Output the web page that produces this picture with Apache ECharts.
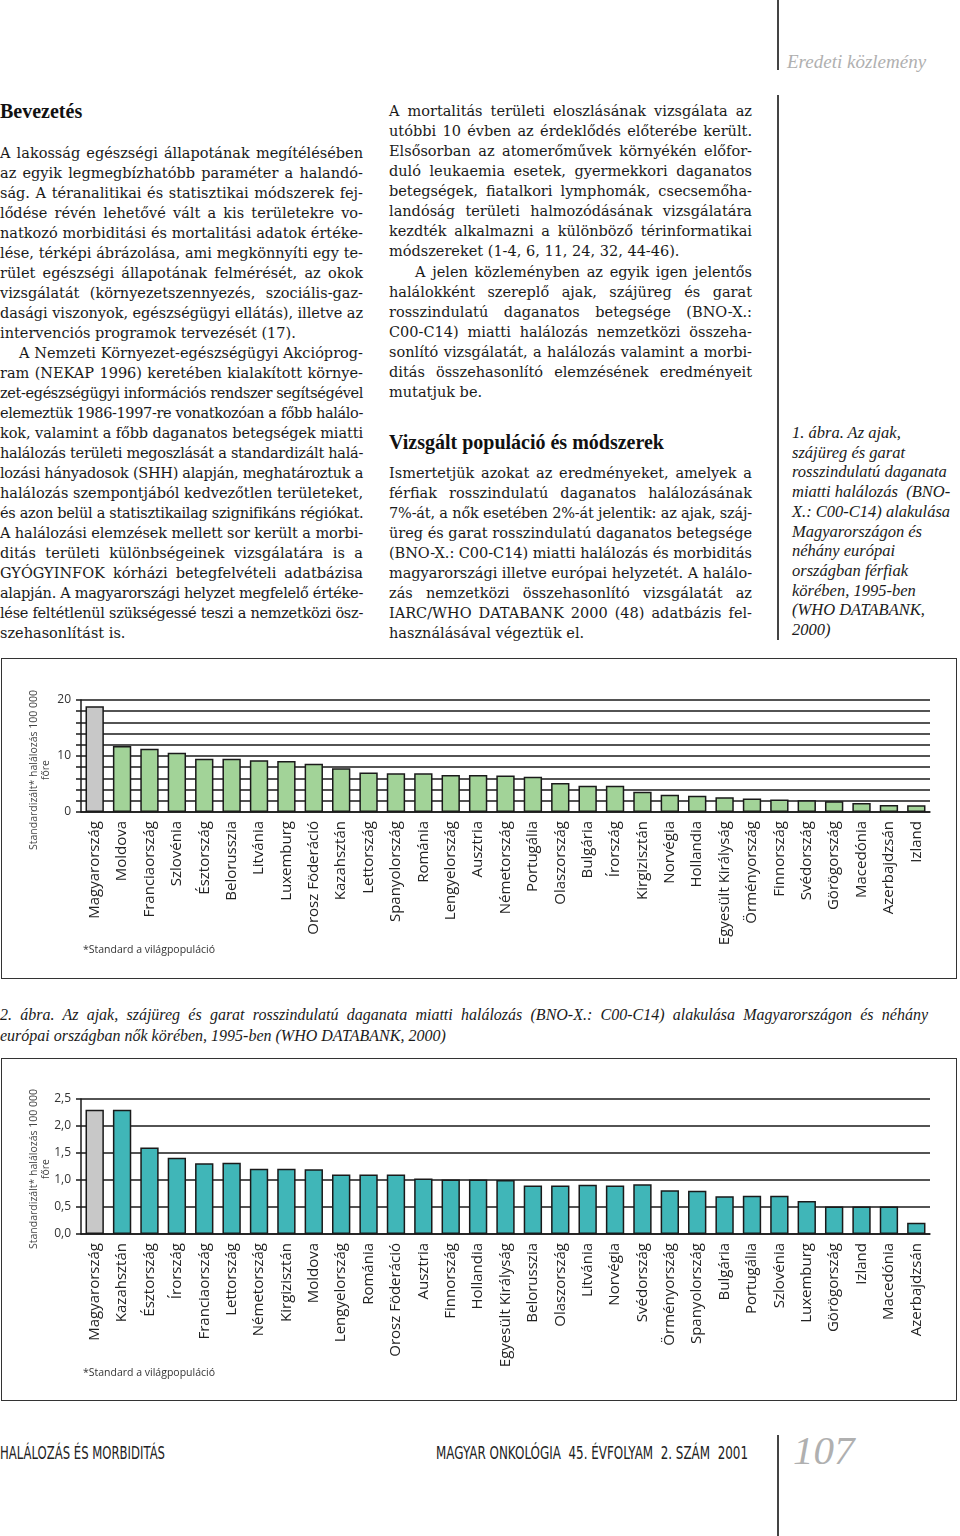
<!DOCTYPE html>
<html><head><meta charset="utf-8">
<script src="https://cdn.jsdelivr.net/npm/echarts@6/dist/echarts.min.js"></script>
<style>
html,body{margin:0;padding:0;background:#fff;}
#page{position:relative;width:960px;height:1536px;overflow:hidden;background:#fff;color:#1a1a1a;}
.ln{position:absolute;height:20px;line-height:20px;white-space:pre;font-family:"DejaVu Serif",serif;font-size:14.5px;color:#1a1a1a;}
.it{font-family:"Liberation Serif",serif;font-style:italic;}
.hd{position:absolute;font-family:"Liberation Serif",serif;font-weight:bold;font-size:20px;line-height:24px;color:#111;white-space:nowrap;}
.vline{position:absolute;width:1.5px;background:#444;}
.box{position:absolute;border:1.5px solid #333;box-sizing:border-box;pointer-events:none;}
.foot{position:absolute;white-space:pre;font-family:"DejaVu Sans",sans-serif;font-size:18px;line-height:20px;color:#222;transform-origin:0 50%;display:inline-block;}
</style></head>
<body><div id="page">
<div class="vline" style="left:777px;top:0;height:70px"></div>
<div class="vline" style="left:777px;top:95px;height:545px"></div>
<div class="vline" style="left:777px;top:1435px;height:101px"></div>
<div style="position:absolute;left:787px;top:50px;font-family:'Liberation Serif',serif;font-style:italic;font-size:19px;line-height:24px;color:#b0b0b0;white-space:nowrap">Eredeti közlemény</div>
<div class="hd" style="left:0;top:99px">Bevezetés</div>
<div class="hd" style="left:389px;top:430px">Vizsgált populáció és módszerek</div>
<div class="box" style="left:1px;top:658px;width:956px;height:321px"></div>
<div id="c1" style="position:absolute;left:0;top:658px;width:960px;height:320px"></div>
<div class="box" style="left:1px;top:1058px;width:956px;height:343px"></div>
<div id="c2" style="position:absolute;left:0;top:1058px;width:960px;height:342px"></div>
<div style="position:absolute;left:793px;top:1426px;font-family:'Liberation Serif',serif;font-style:italic;font-size:41px;line-height:48px;color:#b0b0b0">107</div>
</div>
<script>
// ---------- chart data ----------
const highlightName = 'Magyarország';
const cats1 = ['Magyarország','Moldova','Franciaország','Szlovénia','Észtország','Belorusszia','Litvánia','Luxemburg','Orosz Föderáció','Kazahsztán','Lettország','Spanyolország','Románia','Lengyelország','Ausztria','Németország','Portugália','Olaszország','Bulgária','Írország','Kirgizisztán','Norvégia','Hollandia','Egyesült Királyság','Örményország','Finnország','Svédország','Görögország','Macedónia','Azerbajdzsán','Izland'];
const vals1 = [18.9,11.8,11.3,10.6,9.5,9.5,9.25,9.1,8.6,7.8,7.05,6.9,6.9,6.6,6.6,6.5,6.3,5.2,4.7,4.7,3.6,3.1,2.9,2.65,2.4,2.25,2.1,1.9,1.6,1.25,1.2];
const yTicks1 = {min:0,max:20,step:2,labelEvery:10};
const cats2 = ['Magyarország','Kazahsztán','Észtország','Írország','Franciaország','Lettország','Németország','Kirgizisztán','Moldova','Lengyelország','Románia','Orosz Föderáció','Ausztria','Finnország','Hollandia','Egyesült Királyság','Belorusszia','Olaszország','Litvánia','Norvégia','Svédország','Örményország','Spanyolország','Bulgária','Portugália','Szlovénia','Luxemburg','Görögország','Izland','Macedónia','Azerbajdzsán'];
const vals2 = [2.3,2.3,1.6,1.41,1.31,1.32,1.21,1.21,1.2,1.1,1.1,1.1,1.03,1.01,1.01,1.0,0.9,0.9,0.91,0.9,0.92,0.81,0.8,0.7,0.71,0.71,0.61,0.51,0.51,0.51,0.21];
const yTicks2 = {min:0,max:2.5,step:0.5};
const yName = 'Standardizált* halálozás 100 000\nfőre';
const footNote = '*Standard a világpopuláció';

// ---------- text ----------
const col1 = [
 {indent:0, lines:['A lakosság egészségi állapotának megítélésében','az egyik legmegbízhatóbb paraméter a halandó-','ság. A téranalitikai és statisztikai módszerek fej-','lődése révén lehetővé vált a kis területekre vo-','natkozó morbiditási és mortalitási adatok értéke-','lése, térképi ábrázolása, ami megkönnyíti egy te-','rület egészségi állapotának felmérését, az okok','vizsgálatát (környezetszennyezés, szociális-gaz-','dasági viszonyok, egészségügyi ellátás), illetve az','intervenciós programok tervezését (17).']},
 {indent:19, lines:['A Nemzeti Környezet-egészségügyi Akcióprog-','ram (NEKAP 1996) keretében kialakított környe-','zet-egészségügyi információs rendszer segítségével','elemeztük 1986-1997-re vonatkozóan a főbb halálo-','kok, valamint a főbb daganatos betegségek miatti','halálozás területi megoszlását a standardizált halá-','lozási hányadosok (SHH) alapján, meghatároztuk a','halálozás szempontjából kedvezőtlen területeket,','és azon belül a statisztikailag szignifikáns régiókat.','A halálozási elemzések mellett sor került a morbi-','ditás területi különbségeinek vizsgálatára is a','GYÓGYINFOK kórházi betegfelvételi adatbázisa','alapján. A magyarországi helyzet megfelelő értéke-','lése feltétlenül szükségessé teszi a nemzetközi ösz-','szehasonlítást is.']}
];
const col2a = [
 {indent:0, lines:['A mortalitás területi eloszlásának vizsgálata az','utóbbi 10 évben az érdeklődés előterébe került.','Elsősorban az atomerőművek környékén előfor-','duló leukaemia esetek, gyermekkori daganatos','betegségek, fiatalkori lymphomák, csecsemőha-','landóság területi halmozódásának vizsgálatára','kezdték alkalmazni a különböző térinformatikai','módszereket (1-4, 6, 11, 24, 32, 44-46).']},
 {indent:26, lines:['A jelen közleményben az egyik igen jelentős','halálokként szereplő ajak, szájüreg és garat','rosszindulatú daganatos betegsége (BNO-X.:','C00-C14) miatti halálozás nemzetközi összeha-','sonlító vizsgálatát, a halálozás valamint a morbi-','ditás összehasonlító elemzésének eredményeit','mutatjuk be.']}
];
const col2b = [
 {indent:0, lines:['Ismertetjük azokat az eredményeket, amelyek a','férfiak rosszindulatú daganatos halálozásának','7%-át, a nők esetében 2%-át jelentik: az ajak, száj-','üreg és garat rosszindulatú daganatos betegsége','(BNO-X.: C00-C14) miatti halálozás és morbiditás','magyarországi illetve európai helyzetét. A halálo-','zás nemzetközi összehasonlító vizsgálatát az','IARC/WHO DATABANK 2000 (48) adatbázis fel-','használásával végeztük el.']}
];
const cap1 = ['1. ábra. Az ajak,','szájüreg és garat','rosszindulatú daganata','miatti halálozás  (BNO-','X.: C00-C14) alakulása','Magyarországon és','néhány európai','országban férfiak','körében, 1995-ben','(WHO DATABANK,','2000)'];
const cap2 = ['2. ábra. Az ajak, szájüreg és garat rosszindulatú daganata miatti halálozás (BNO-X.: C00-C14) alakulása Magyarországon és néhány','európai országban nők körében, 1995-ben (WHO DATABANK, 2000)'];

const page = document.getElementById('page');
function addLine(text, x, yc, w, justify, extraClass, fs){
  const d = document.createElement('div');
  d.className = 'ln' + (extraClass ? ' ' + extraClass : '');
  d.style.left = x + 'px'; d.style.top = (yc - 10) + 'px'; d.style.width = w + 'px';
  if (fs) d.style.fontSize = fs + 'px';
  const s = document.createElement('span'); s.textContent = text; d.appendChild(s);
  page.appendChild(d);
  const nat = s.getBoundingClientRect().width;
  if (nat > w) {
    d.style.letterSpacing = ((w - nat) / text.length) + 'px';
  } else if (justify){
    const sp = (text.match(/ /g) || []).length;
    if (sp > 0) d.style.wordSpacing = ((w - nat) / sp) + 'px';
  }
}
function addParas(paras, x, y0, w, step){
  let y = y0;
  paras.forEach(p => {
    p.lines.forEach((t, i) => {
      const ind = i === 0 ? p.indent : 0;
      addLine(t, x + ind, y, w - ind, i < p.lines.length - 1);
      y += step;
    });
  });
}
addParas(col1, 0, 153, 363, 20);
addParas(col2a, 389, 111, 363, 20.07);
addParas(col2b, 389, 473, 363, 20);
cap1.forEach((t, i) => addLine(t, 792, 433 + i * 19.7, 170, false, 'it', 16.5));
addLine(cap2[0], 0, 1015, 928, true, 'it', 16);
addLine(cap2[1], 0, 1036, 928, false, 'it', 16);

function addFoot(text, x, w){
  const s = document.createElement('span');
  s.className = 'foot'; s.textContent = text;
  s.style.left = x + 'px'; s.style.top = '1443px';
  page.appendChild(s);
  const nat = s.getBoundingClientRect().width;
  s.style.transform = 'scaleX(' + (w / nat) + ')';
}
addFoot('HALÁLOZÁS ÉS MORBIDITÁS', 0, 165);
addFoot('MAGYAR ONKOLÓGIA  45. ÉVFOLYAM  2. SZÁM  2001', 436, 312);

// ---------- charts ----------
function makeOption(cats, vals, ticks, color, labelFmt, nameY, footY, gridTop){
  const ink = '#1a1a1a';
  return {
    animation:false,
    grid:{left:81, right:30, top:gridTop, bottom:166, containLabel:false, outerBoundsMode:'none'},
    xAxis:{type:'category', data:cats,
      axisLine:{lineStyle:{color:ink, width:1.5}}, axisTick:{show:false},
      axisLabel:{rotate:90, interval:0, fontSize:15, fontFamily:'Open Sans', color:'#222', margin:9}},
    yAxis:{type:'value', min:ticks.min, max:ticks.max, interval:ticks.step,
      axisLine:{show:true, lineStyle:{color:ink, width:1.5}},
      axisTick:{show:true, length:5, lineStyle:{color:ink, width:1.5}},
      splitLine:{show:true, lineStyle:{color:ink, width:1.6}},
      axisLabel:{formatter:labelFmt, fontSize:12, fontFamily:'Open Sans', color:'#333', margin:10}},
    series:[{type:'bar', barWidth:'67%',
      data: vals.map((v, i) => ({value:v, itemStyle:{color: cats[i] === highlightName ? '#c8c8c8' : color}})),
      itemStyle:{borderColor:ink, borderWidth:1.5}}],
    graphic:[
      {type:'text', x:40, y:nameY, rotation:Math.PI/2,
        style:{text:yName, align:'center', verticalAlign:'middle', fontSize:10.5, lineHeight:12, fontFamily:'Open Sans', fill:'#444'}},
      {type:'text', x:83, y:footY,
        style:{text:footNote, align:'left', verticalAlign:'middle', fontSize:10.5, fontFamily:'Open Sans', fill:'#333'}}
    ]
  };
}
const c1 = echarts.init(document.getElementById('c1'));
c1.setOption(makeOption(cats1, vals1, yTicks1, '#a2d398',
  v => (v % yTicks1.labelEvery === 0 ? String(v) : ''), 112, 292, 42));
const c2 = echarts.init(document.getElementById('c2'));
c2.setOption(makeOption(cats2, vals2, yTicks2, '#40b6b8',
  v => v.toFixed(1).replace('.', ','), 111, 315, 41));
</script>
</body></html>
